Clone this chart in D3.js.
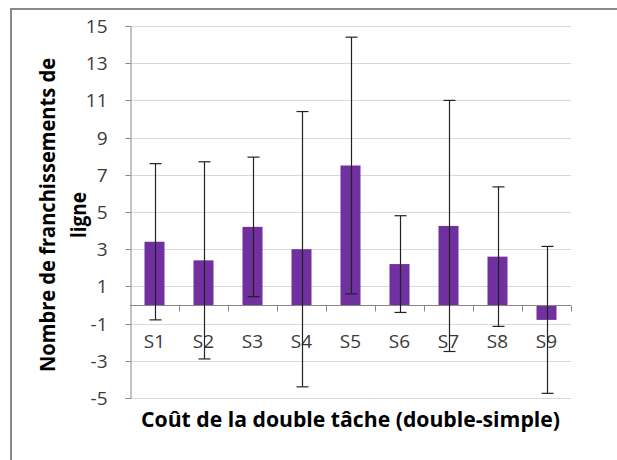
<!DOCTYPE html>
<html>
<head>
<meta charset="utf-8">
<script src="https://cdn.jsdelivr.net/npm/d3@7"></script>
<style>
  html, body { margin: 0; padding: 0; background: #fff; }
  svg { display: block; }
  text { font-family: "Open Sans", "Noto Sans", sans-serif; }
</style>
</head>
<body>
<svg id="chart" width="617" height="460"></svg>
<script>
// ---- data ----
const categories = ["S1", "S2", "S3", "S4", "S5", "S6", "S7", "S8", "S9"];
const means = [3.4, 2.4, 4.2, 3.0, 7.5, 2.2, 4.25, 2.6, -0.8];
const errors = [4.2, 5.3, 3.75, 7.4, 6.9, 2.6, 6.75, 3.75, 3.95];
const yTicks = [-5, -3, -1, 1, 3, 5, 7, 9, 11, 13, 15];
const xTitle = "Coût de la double tâche (double-simple)";
const yTitleLines = ["Nombre de franchissements de", "ligne"];

// ---- layout ----
const svg = d3.select("#chart");
const pLeft = 130, pRight = 571, pTop = 26, pBottom = 398;

// outer frame
svg.append("rect")
  .attr("x", 11).attr("y", 9).attr("width", 700).attr("height", 700)
  .attr("fill", "none").attr("stroke", "#8a8a8a").attr("stroke-width", 2);

const x = d3.scaleBand().domain(categories).range([pLeft, pRight]).paddingInner(0).paddingOuter(0);
const y = d3.scaleLinear().domain([-5, 15]).range([pBottom, pTop]);

// gridlines
svg.append("g").selectAll("line").data(yTicks).join("line")
  .attr("x1", pLeft).attr("x2", pRight)
  .attr("y1", d => Math.round(y(d)) + 0.5).attr("y2", d => Math.round(y(d)) + 0.5)
  .attr("stroke", "#d9d9d9").attr("stroke-width", 1);

// y axis
const yAxis = d3.axisLeft(y).tickValues(yTicks).tickSize(5).tickPadding(18)
  .tickFormat(d => String(d));
const gy = svg.append("g").attr("transform", `translate(${pLeft + 0.5},0)`).call(yAxis);
gy.select(".domain").attr("stroke", "#868686");
gy.selectAll(".tick line").attr("stroke", "#868686");
gy.selectAll(".tick text").attr("font-size", 19).attr("fill", "#3a3a3a")
  .attr("font-family", "'Open Sans', sans-serif");
gy.selectAll(".tick").attr("transform", d => `translate(0,${Math.round(y(d)) + 0.5})`);

// bars
svg.append("g").selectAll("rect").data(categories).join("rect")
  .attr("x", d => x(d) + x.bandwidth() / 2 - 10)
  .attr("width", 20)
  .attr("y", (d, i) => Math.min(y(means[i]), y(0)))
  .attr("height", (d, i) => Math.abs(y(means[i]) - y(0)))
  .attr("fill", "#7030a0");

// x axis at zero
const y0 = Math.round(y(0)) + 0.5;
const gx = svg.append("g");
gx.append("line").attr("x1", pLeft).attr("x2", pRight).attr("y1", y0).attr("y2", y0)
  .attr("stroke", "#868686");
const bounds = categories.map(c => x(c) + x.bandwidth()).slice(0, -1).concat([pRight]);
gx.selectAll("line.tk").data(bounds).join("line").attr("class", "tk")
  .attr("x1", d => Math.round(d) + 0.5).attr("x2", d => Math.round(d) + 0.5)
  .attr("y1", y0).attr("y2", y0 + 6).attr("stroke", "#868686");

// category labels
svg.append("g").selectAll("text").data(categories).join("text")
  .attr("x", d => x(d) + x.bandwidth() / 2)
  .attr("y", 348)
  .attr("text-anchor", "middle")
  .attr("font-size", 19).attr("fill", "#3a3a3a")
  .text(d => d);

// error bars
const eb = svg.append("g").attr("stroke", "#222").attr("stroke-width", 1.2);
categories.forEach((c, i) => {
  const cx = Math.round(x(c) + x.bandwidth() / 2) + 0.5;
  const hi = y(means[i] + errors[i]), lo = y(means[i] - errors[i]);
  eb.append("line").attr("x1", cx).attr("x2", cx).attr("y1", hi).attr("y2", lo);
  eb.append("line").attr("x1", cx - 6).attr("x2", cx + 6).attr("y1", hi).attr("y2", hi);
  eb.append("line").attr("x1", cx - 6).attr("x2", cx + 6).attr("y1", lo).attr("y2", lo);
});

// x title
svg.append("text")
  .attr("x", (pLeft + pRight) / 2).attr("y", 427)
  .attr("text-anchor", "middle")
  .attr("font-size", 21).attr("font-weight", "bold").attr("fill", "#000")
  .attr("textLength", 419).attr("lengthAdjust", "spacingAndGlyphs")
  .text(xTitle);

// y title
const yt = svg.append("text")
  .attr("transform", "rotate(-90)")
  .attr("text-anchor", "middle")
  .attr("font-size", 21).attr("font-weight", "bold").attr("fill", "#000");
yt.append("tspan").attr("x", -215).attr("y", 55)
  .attr("textLength", 314).attr("lengthAdjust", "spacingAndGlyphs")
  .text(yTitleLines[0]);
yt.append("tspan").attr("x", -215).attr("y", 86)
  .attr("textLength", 46).attr("lengthAdjust", "spacingAndGlyphs")
  .text(yTitleLines[1]);
</script>
</body>
</html>
